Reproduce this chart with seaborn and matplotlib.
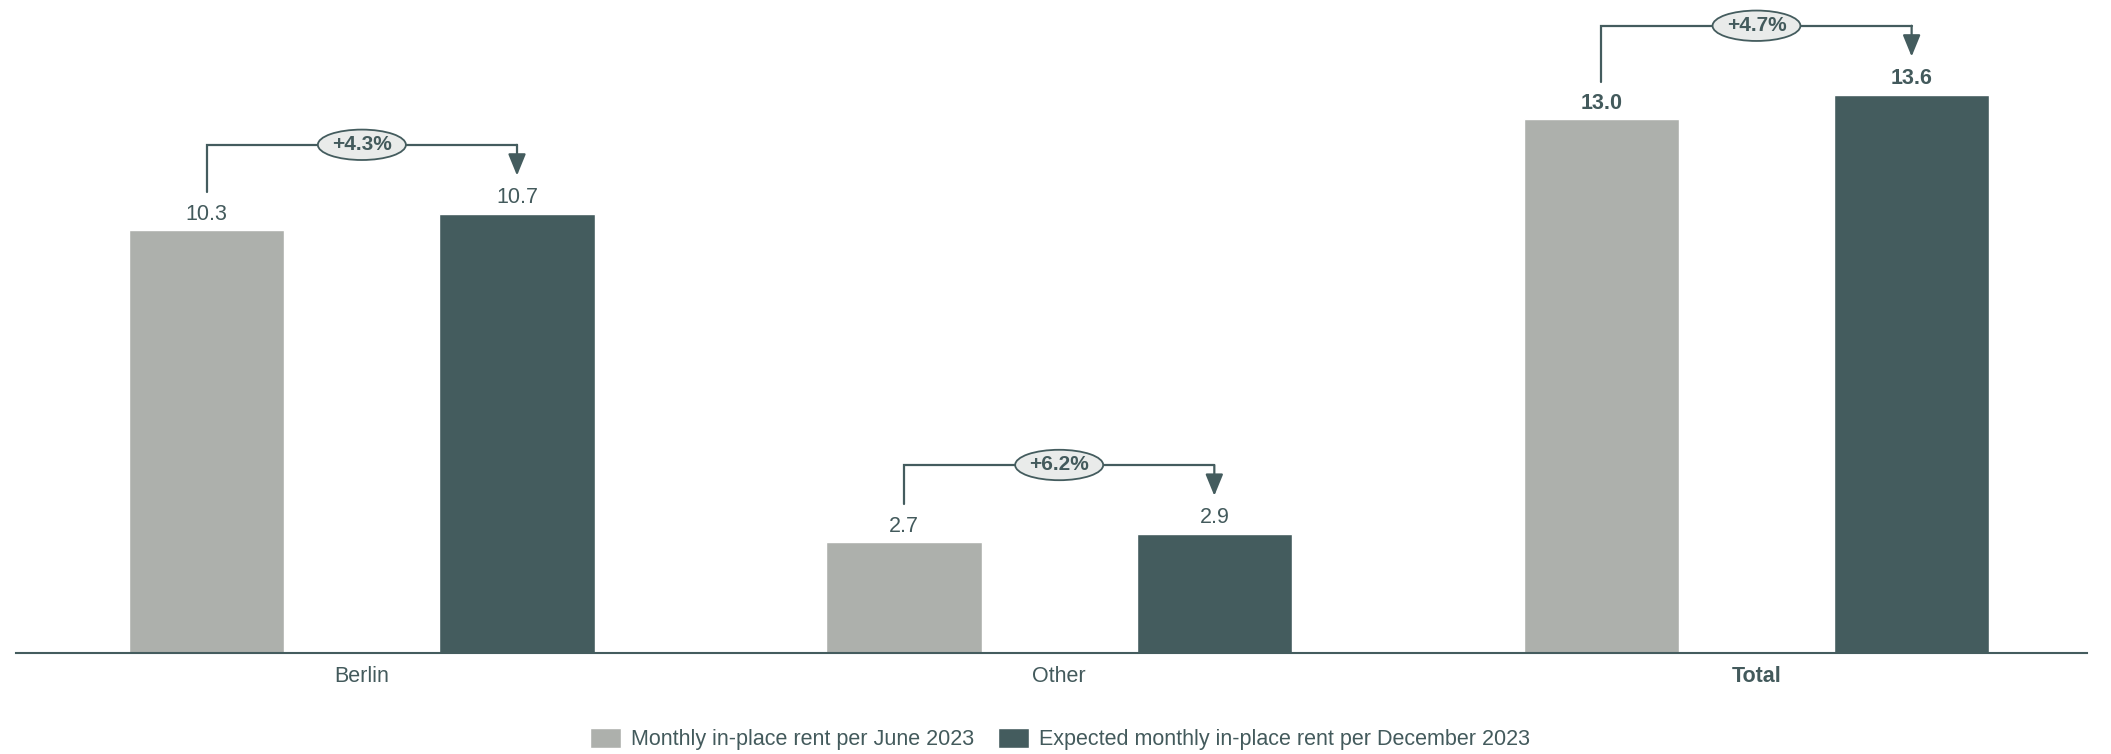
import pandas as pd
import seaborn as sns
import matplotlib.pyplot as plt

categories = ['Berlin', 'Other', 'Total']
rent_june = [10.3, 2.7, 13.0]
rent_december = [10.7, 2.9, 13.6]
changes = ['+4.3%', '+6.2%', '+4.7%']
series = ['Monthly in-place rent per June 2023',
          'Expected monthly in-place rent per December 2023']

GREY = '#adb0ac'
DARK = '#445c5e'
TEXT = '#435a5c'
FS = 15.5

df = pd.DataFrame({
    'category': categories * 2,
    'rent': rent_june + rent_december,
    'series': [series[0]] * len(categories) + [series[1]] * len(categories),
})

sns.set_theme(style='white')
plt.rcParams['font.family'] = ['Liberation Sans', 'DejaVu Sans']

fig = plt.figure(figsize=(21.11, 7.54), dpi=100)
px_per_unit = 41.05
ax = fig.add_axes([16 / 2111, 101 / 754, 2071 / 2111, 15.9 * px_per_unit / 754])
sns.barplot(data=df, x='category', y='rent', hue='series', palette=[GREY, DARK],
            width=0.89, gap=0.5, saturation=1, ax=ax)

handles, labels = ax.get_legend_handles_labels()
ax.get_legend().remove()

ax.set_xlim(-0.496, 2.474)
ax.set_ylim(0, 15.9)
ax.set_xlabel('')
ax.set_ylabel('')
ax.set_yticks([])
ax.tick_params(axis='x', length=0, pad=9, labelsize=FS, labelcolor=TEXT)
ax.get_xticklabels()[2].set_fontweight('bold')
sns.despine(ax=ax, left=True)
ax.spines['bottom'].set_color(DARK)
ax.spines['bottom'].set_linewidth(1.5)

# value labels
for cont in ax.containers:
    texts = ax.bar_label(cont, fmt='%.1f', padding=4, fontsize=FS, color=TEXT)
    texts[2].set_fontweight('bold')

# change brackets
left_bars, right_bars = ax.containers
for i, change in enumerate(changes):
    x1 = left_bars[i].get_x() + left_bars[i].get_width() / 2
    x2 = right_bars[i].get_x() + right_bars[i].get_width() / 2
    y1 = rent_june[i] + 0.92
    y2 = rent_december[i] + 0.93
    yh = max(rent_june[i], rent_december[i]) + 1.68
    ax.plot([x1, x1, x2], [y1, yh, yh], color=DARK, lw=1.6,
            solid_joinstyle='miter', clip_on=False)
    ax.annotate('', xy=(x2, y2), xytext=(x2, yh),
                arrowprops=dict(arrowstyle='-|>,head_length=1.1,head_width=0.45',
                                color=DARK, lw=1.6, shrinkA=0, shrinkB=0))
    ax.text((x1 + x2) / 2, yh, change, ha='center', va='center', fontsize=FS - 0.5,
            fontweight='bold', color=TEXT, clip_on=False,
            bbox=dict(boxstyle='ellipse,pad=0.06', fc='#e9ebea', ec=DARK, lw=1.3))

fig.legend(handles, labels, loc='lower center', bbox_to_anchor=(0.502, -0.021),
           ncol=2, frameon=False, fontsize=FS, labelcolor=TEXT,
           handlelength=1.45, handleheight=1.1, handletextpad=0.45,
           columnspacing=1.1)

fig.savefig('out.png', dpi=100)
